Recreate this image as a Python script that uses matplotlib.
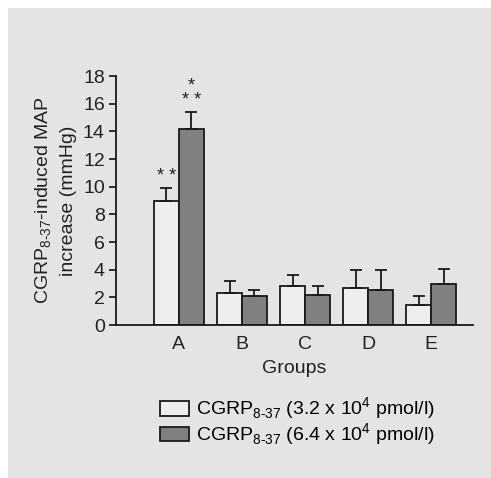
import matplotlib
matplotlib.use("Agg")
import matplotlib.pyplot as plt
from matplotlib.patches import Rectangle
import numpy as np

plt.rcParams['font.family'] = ['Liberation Sans', 'DejaVu Sans']
plt.rcParams['mathtext.fontset'] = 'custom'
plt.rcParams['mathtext.rm'] = 'Liberation Sans'

groups = ['A', 'B', 'C', 'D', 'E']
low_dose = [9.0, 2.35, 2.8, 2.7, 1.45]
low_err = [0.9, 0.85, 0.8, 1.28, 0.67]
high_dose = [14.15, 2.1, 2.15, 2.55, 3.0]
high_err = [1.25, 0.45, 0.65, 1.43, 1.05]
stars_low = ['* *', '', '', '', '']
stars_high = ['*\n* *', '', '', '', '']

FS = 14
fig = plt.figure(figsize=(4.91, 4.78), dpi=100)
fig.patch.set_facecolor('white')
fig.patches.append(Rectangle((8 / 491, 0), 1, 1 - 8 / 478, transform=fig.transFigure,
                             facecolor='#e4e4e4', edgecolor='none', zorder=-10))
ax = fig.add_axes([0.236, 0.320, 0.727, 0.521])
ax.set_facecolor('none')

x = np.arange(1, len(groups) + 1)
w = 0.395
ax.bar(x - w / 2, low_dose, w, color='#eeeeee', edgecolor='#1a1a1a', linewidth=1.3,
       yerr=[np.zeros(5), low_err], capsize=4.5,
       error_kw=dict(elinewidth=1.3, capthick=1.3, ecolor='#1a1a1a'),
       label='CGRP$_{\\mathregular{8\u201037}}$ (3.2 x 10$^{\\mathregular{4}}$ pmol/l)')
ax.bar(x + w / 2, high_dose, w, color='#808080', edgecolor='#1a1a1a', linewidth=1.3,
       yerr=[np.zeros(5), high_err], capsize=4.5,
       error_kw=dict(elinewidth=1.3, capthick=1.3, ecolor='#1a1a1a'),
       label='CGRP$_{\\mathregular{8\u201037}}$ (6.4 x 10$^{\\mathregular{4}}$ pmol/l)')

for i in range(len(groups)):
    if stars_low[i]:
        ax.text(x[i] - w / 2, low_dose[i] + low_err[i] + 0.2, stars_low[i],
                ha='center', va='bottom', fontsize=13, linespacing=0.8, color='#222222')
    if stars_high[i]:
        ax.text(x[i] + w / 2, high_dose[i] + high_err[i] + 0.2, stars_high[i],
                ha='center', va='bottom', fontsize=13, linespacing=0.8, color='#222222')

ax.set_xlim(0, 5.66)
ax.set_ylim(0, 18)
ax.set_yticks(range(0, 19, 2))
ax.set_xticks(x)
ax.set_xticklabels(groups)
ax.tick_params(axis='x', length=0, pad=8, labelsize=FS, colors='#222222')
ax.tick_params(axis='y', length=5, width=1.3, pad=3, labelsize=FS, colors='#222222')
for s in ['top', 'right']:
    ax.spines[s].set_visible(False)
for s in ['left', 'bottom']:
    ax.spines[s].set_linewidth(1.3)
    ax.spines[s].set_color('#1a1a1a')

ax.set_ylabel('CGRP$_{\\mathregular{8\u201037}}$-induced MAP\nincrease (mmHg)',
              fontsize=FS, color='#222222', labelpad=4, linespacing=1.5)
ax.set_xlabel('Groups', fontsize=FS, color='#222222', labelpad=5)

ax.legend(loc='upper left', bbox_to_anchor=(0.125, -0.283), frameon=False, fontsize=FS,
          handlelength=1.45, handleheight=0.75, handletextpad=0.4, labelspacing=-0.05,
          borderpad=0, borderaxespad=0)

fig.savefig('out.png', dpi=100)
